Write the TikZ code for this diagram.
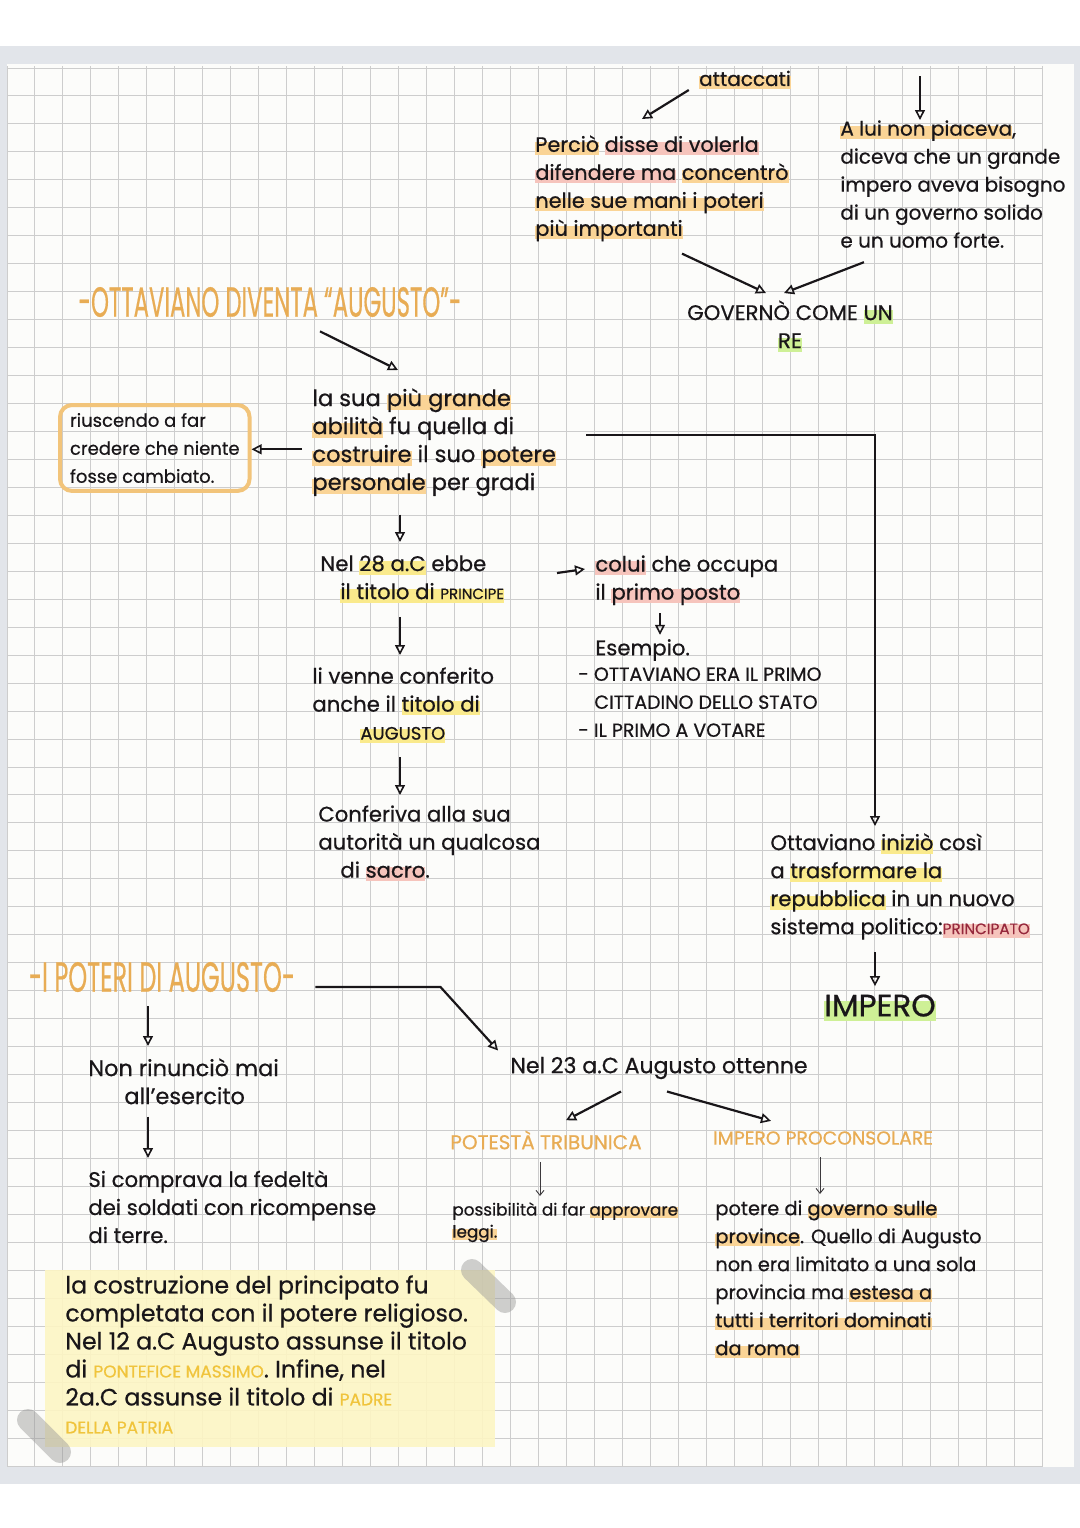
\documentclass[tikz,border=0pt]{standalone}
\usepackage{fontspec}
\setmainfont{Poppins}[FakeBold=0.6]
\usepackage{graphicx}
\usetikzlibrary{arrows.meta,positioning,calc}

\definecolor{ink}{RGB}{25,22,25}
\definecolor{gridgray}{RGB}{205,205,205}
\definecolor{paper}{RGB}{252,252,250}
\definecolor{rim}{RGB}{226,229,234}
\definecolor{ttlorange}{RGB}{232,172,84}
\definecolor{boxorange}{RGB}{242,196,122}
\definecolor{hlorange}{RGB}{250,212,150}
\definecolor{hlpink}{RGB}{246,196,188}
\definecolor{hlyellow}{RGB}{250,234,140}
\definecolor{hlgreen}{RGB}{206,240,150}
\definecolor{redtxt}{RGB}{150,40,60}
\definecolor{goldtxt}{RGB}{240,196,60}
\definecolor{notefill}{RGB}{253,246,196}
\definecolor{tapegray}{RGB}{150,150,150}

\newlength\hlw
\newcommand\hlite[2]{\settowidth\hlw{#2}\makebox[0pt][l]{\color{#1}\rule[-0.3ex]{\hlw}{1.2ex}}#2}

\begin{document}
\begin{tikzpicture}[
  x=0.5pt, y=-0.5pt,
  hand/.style={inner sep=0pt, text=ink, align=left, font=\fontsize{10.6}{14}\selectfont},
  caps/.style={hand, font=\fontsize{9.5}{14}\selectfont},
  smalltxt/.style={hand, font=\fontsize{9.7}{14}\selectfont},
  ttl/.style={inner sep=0pt, text=ttlorange, font=\fontsize{20}{20}\selectfont},
  arr/.style={draw=ink, line width=1.1pt, -{Triangle[open, length=5pt, width=5pt, line width=0.8pt]}},
  thinarr/.style={draw=ink!85, line width=0.45pt, -{Straight Barb[length=2.5pt, width=4pt]}},
  gridline/.style={draw=gridgray, line width=0.5pt},
  tape/.style={draw=tapegray, draw opacity=0.45, line width=11pt, line cap=round}
]
  \useasboundingbox (0,0) rectangle (1080,1528);
  \fill[white] (0,0) rectangle (1080,1528);
  % page of the notebook
  \fill[rim] (0,46) rectangle (1080,1484);
  \fill[paper] (7,64) rectangle (1074,1467);
  \foreach \i in {0,...,37}
    \draw[gridline] ({7+27.98*\i},66) -- ({7+27.98*\i},1466);
  \foreach \j in {0,...,50}
    \draw[gridline] (7,{68+27.96*\j}) -- (1043,{68+27.96*\j});

  % sticky note
  \fill[notefill, fill opacity=0.9] (45,1270) rectangle (495,1447);
  \node[hand, anchor=north west, font=\fontsize{11.8}{14}\selectfont] (note) at (65,1275) {%
    la costruzione del principato fu\\
    completata con il potere religioso.\\
    Nel 12 a.C Augusto assunse il titolo\\
    di {\color{goldtxt}\fontsize{8.5}{14}\selectfont PONTEFICE MASSIMO}. Infine, nel\\
    2a.C assunse il titolo di {\color{goldtxt}\fontsize{8.5}{14}\selectfont PADRE}\\
    {\color{goldtxt}\fontsize{8.5}{14}\selectfont DELLA PATRIA}};
  \draw[tape] (472,1270) -- (505,1302);
  \draw[tape] (28,1420) -- (60,1452);

  % top part
  \coordinate (cutR) at (920,76);
  \node[hand, font=\fontsize{10}{14}\selectfont] (att) at (745,80) {\hlite{hlorange}{attaccati}};
  \node[hand, anchor=north west, font=\fontsize{10.4}{14}\selectfont] (perc) at (535,135) {%
    \hlite{hlorange}{Perciò} \hlite{hlpink}{disse di volerla}\\
    \hlite{hlpink}{difendere ma} \hlite{hlorange}{concentrò}\\
    \hlite{hlorange}{nelle sue mani i poteri}\\
    \hlite{hlorange}{più importanti}};
  \node[hand, anchor=north west, font=\fontsize{10}{14}\selectfont] (lui) at (840,120) {%
    \hlite{hlorange}{A lui non piaceva},\\
    diceva che un grande\\
    impero aveva bisogno\\
    di un governo solido\\
    e un uomo forte.};
  \node[hand, align=center] (gov) at (790,326)
    {GOVERNÒ COME \hlite{hlgreen}{UN}\\ \hlite{hlgreen}{RE}};

  \draw[arr] (cutR) -- (cutR |- lui.north);
  \draw[arr] ($(att.west)+(-10,10)$) -- ($(perc.north west)+(107,-16)$);
  \draw[arr] ($(perc.south)+(20,12)$) -- ($(gov.north)+(-24,-7)$);
  \draw[arr] ($(lui.south)+(-89,14)$) -- ($(gov.north)+(-6,-7)$);

  % ottaviano diventa augusto
  \node[ttl] (t1) at (270,302) {\scalebox{0.57}[1.05]{-OTTAVIANO DIVENTA “AUGUSTO”-}};
  \node[hand, anchor=north west, font=\fontsize{11.3}{14}\selectfont] (abil) at (312,388) {%
    la sua \hlite{hlorange}{più grande}\\
    \hlite{hlorange}{abilità} fu quella di\\
    \hlite{hlorange}{costruire} il suo \hlite{hlorange}{potere}\\
    \hlite{hlorange}{personale} per gradi};
  \node[hand, anchor=north west, font=\fontsize{9}{14}\selectfont, draw=boxorange,
        line width=2pt, rounded corners=6pt, inner xsep=5pt, inner ysep=4pt] (far) at (58,403) {%
    riuscendo a far\\
    credere che niente\\
    fosse cambiato.};
  \node[hand, anchor=north west] (n28) at (320,555) {%
    Nel \hlite{hlyellow}{28 a.C} ebbe\\
    \hspace*{10pt}\hlite{hlyellow}{il titolo di {\fontsize{7.5}{14}\selectfont PRINCIPE}}};
  \node[hand, anchor=north west] (colui) at (595,555) {%
    \hlite{hlpink}{colui} che occupa\\
    il \hlite{hlpink}{primo posto}};
  \node[hand, anchor=west] (esem) at (595,650) {Esempio.};
  \node[caps, anchor=north west] (list) at (578,667) {%
    - OTTAVIANO ERA IL PRIMO\\
    \hspace*{8pt}CITTADINO DELLO STATO\\
    - IL PRIMO A VOTARE};
  \node[hand, anchor=north west] (venne) at (312,667) {%
    li venne conferito\\
    anche il \hlite{hlyellow}{titolo di}\\
    \hspace*{24pt}\hlite{hlyellow}{{\fontsize{9}{14}\selectfont AUGUSTO}}};
  \node[hand, anchor=north west] (conf) at (318,805) {%
    Conferiva alla sua\\
    autorità un qualcosa\\
    \hspace*{11pt}di \hlite{hlpink}{sacro}.};
  \node[hand, anchor=north west] (ott) at (770,833) {%
    Ottaviano \hlite{hlyellow}{iniziò} così\\
    a \hlite{hlyellow}{trasformare la}\\
    \hlite{hlyellow}{repubblica} in un nuovo\\
    sistema politico:\hlite{hlpink}{{\color{redtxt}\fontsize{7.6}{14}\selectfont PRINCIPATO}}};
  \node[hand, font=\fontsize{15.5}{16}\selectfont] (imp) at (880,1008) {\hlite{hlgreen}{IMPERO}};

  \draw[arr] ($(t1.south)+(50,14)$) -- ($(abil.north west)+(86,-18)$);
  \draw[arr] ($(abil.west)+(-10,7)$) -- (far.east |- {$(abil.west)+(0,7)$});
  \draw[arr] ($(abil.east)+(30,-7)$) -| ($(ott.north west)+(105,-7)$);
  \draw[arr] ($(abil.south west)+(88,18)$) -- ($(n28.north west)+(80,-13)$);
  \draw[arr] ($(colui.north west)+(-38,18)$) -- ($(colui.north west)+(-10,14)$);
  \draw[arr] ($(colui.south west)+(65,8)$) -- ($(esem.north west)+(65,-4)$);
  \draw[arr] ($(n28.south west)+(80,14)$) -- ($(venne.north west)+(88,-12)$);
  \draw[arr] ($(venne.south west)+(88,14)$) -- ($(conf.north west)+(82,-10)$);
  \draw[arr] ($(ott.south west)+(105,12)$) -- ($(imp.north)+(-5,-8)$);

  % i poteri di augusto
  \node[ttl] (t2) at (162,977) {\scalebox{0.6}[1.05]{-I POTERI DI AUGUSTO-}};
  \node[hand, anchor=center, font=\fontsize{11}{14}\selectfont] (n23) at (659,1068) {Nel 23 a.C Augusto ottenne};
  \node[hand, anchor=north west, font=\fontsize{11.2}{14}\selectfont] (rin) at (88,1058) {%
    Non rinunciò mai\\
    \hspace*{18pt}all'esercito};
  \node[hand, anchor=north west] (comp) at (88,1170) {%
    Si comprava la fedeltà\\
    dei soldati con ricompense\\
    di terre.};
  \node[caps, text=ttlorange, font=\fontsize{10}{14}\selectfont] (pot) at (546,1140) {POTESTÀ TRIBUNICA};
  \node[caps, text=ttlorange, font=\fontsize{9.4}{14}\selectfont] (proc) at (823,1138) {IMPERO PROCONSOLARE};
  \node[hand, anchor=north west, font=\fontsize{8.4}{11}\selectfont] (poss) at (452,1202) {%
    possibilità di far \hlite{hlorange}{approvare}\\
    \hlite{hlorange}{leggi.}};
  \node[smalltxt, anchor=north west] (pwr) at (715,1200) {%
    potere di \hlite{hlorange}{governo sulle}\\
    \hlite{hlorange}{province}. Quello di Augusto\\
    non era limitato a una sola\\
    provincia ma \hlite{hlorange}{estesa a}\\
    \hlite{hlorange}{tutti i territori dominati}\\
    \hlite{hlorange}{da roma}};

  \draw[arr] ($(t2.south)+(-14,14)$) -- ($(rin.north west)+(60,-12)$);
  \draw[arr] ($(rin.south west)+(60,12)$) -- ($(comp.north west)+(60,-12)$);
  \draw[arr] ($(t2.east)+(20,10)$) -- ++(125,0) -- ($(n23.north west)+(-12,-6)$);
  \draw[arr] ($(n23.south)+(-38,12)$) -- ($(pot.north)+(20,-10)$);
  \draw[arr] ($(n23.south)+(8,12)$) -- ($(proc.north)+(-52,-10)$);
  \draw[thinarr] ($(pot.south)+(-6,12)$) -- ($(poss.north west)+(88,-6)$);
  \draw[thinarr] ($(proc.south)+(-3,12)$) -- ($(pwr.north west)+(105,-6)$);
\end{tikzpicture}
\end{document}
